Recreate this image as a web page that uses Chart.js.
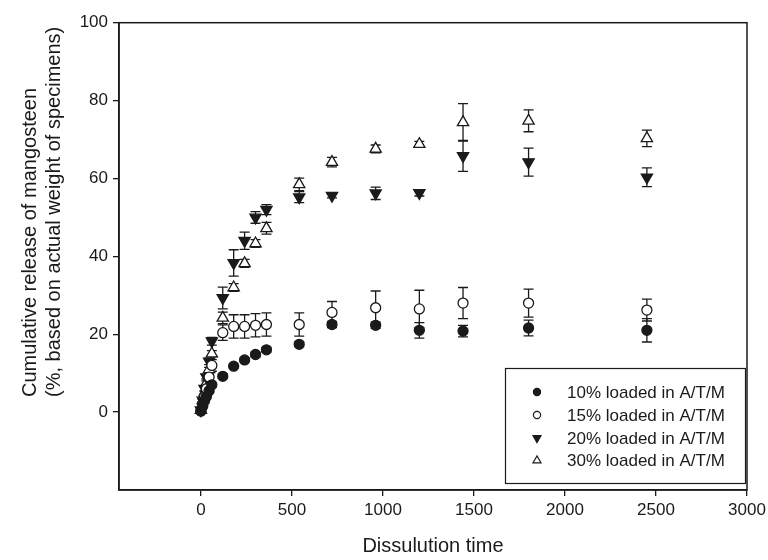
<!DOCTYPE html>
<html><head><meta charset="utf-8">
<script src="https://cdn.jsdelivr.net/npm/chart.js@4/dist/chart.umd.min.js"></script>
<style>html,body{margin:0;padding:0;background:#fff;} canvas{display:block;}</style>
</head><body>
<canvas id="c" width="768" height="560"></canvas>
<script>
// ---- data ----
const times = [0, 10, 20, 30, 45, 60, 120, 180, 240, 300, 360, 540, 720, 960, 1200, 1440, 1800, 2450];
const release10 = [0.3, 1.5, 3, 4, 5.5, 7, 9.2, 11.8, 13.4, 14.8, 16.0, 17.4, 22.5, 22.3, 21, 20.8, 21.6, 21];
const err10     = [0, 0.2, 0.3, 0.3, 0.4, 0.5, 0.6, 0.5, 0.5, 0.6, 0.6, 0.6, 0.8, 0.8, 2, 1.5, 2, 3];
const release15 = [0.3, 2, 4, 6, 9, 12, 20.4, 22, 22, 22.3, 22.5, 22.5, 25.6, 26.8, 26.5, 28, 28, 26.2];
const err15     = [0, 0.5, 0.5, 0.8, 1, 1.5, 2, 3, 3, 3, 3, 3, 2.8, 4.3, 4.8, 4, 3.6, 2.8];
const release20 = [0.5, 3, 6, 9, 13, 18.2, 29.3, 38.3, 44, 50, 52, 55.2, 55.6, 56.2, 56.3, 65.8, 64.2, 60.3];
const err20     = [0, 0.3, 0.5, 0.5, 0.8, 1, 2.8, 3.4, 2.2, 1.5, 1.3, 1.4, 0.6, 1.6, 0.8, 4, 3.6, 2.4];
const release30 = [0.5, 3, 5, 7.5, 11, 15, 24.2, 32, 38.2, 43.3, 47.2, 58.5, 64.2, 67.6, 68.8, 74.4, 74.8, 70.3];
const err30     = [0, 0.3, 0.3, 0.5, 0.5, 0.8, 1.5, 1, 1, 1, 1.5, 1.6, 1.2, 1, 0.7, 4.8, 2.8, 2.1];
const seriesLabels = ['10% loaded in A/T/M', '15% loaded in A/T/M', '20% loaded in A/T/M', '30% loaded in A/T/M'];
const xTicks = [0, 500, 1000, 1500, 2000, 2500, 3000];
const yTicks = [0, 20, 40, 60, 80, 100];
const xTitle = 'Dissulution time';
const yTitleLines = ['Cumulative release of mangosteen', '(%, based on actual weight of specimens)'];

// ---- styling ----
const INK = '#1a1a1a';
const FONT = "'Liberation Sans', Arial, sans-serif";
const allVals = [release10, release15, release20, release30];
const allErr = [err10, err15, err20, err30];
const markerStyles = [
  {style: 'circle', rot: 0, fill: INK, r: 5, lr: 3.6},
  {style: 'circle', rot: 0, fill: '#fff', r: 5, lr: 3.6},
  {style: 'triangle', rot: 180, fill: INK, r: 6.5, lr: 4.6},
  {style: 'triangle', rot: 0, fill: '#fff', r: 6.5, lr: 4.6}
];

const datasets = allVals.map((vals, k) => ({
  label: seriesLabels[k],
  data: times.map((t, i) => ({x: t, y: vals[i]})),
  errors: allErr[k],
  showLine: false,
  pointStyle: markerStyles[k].style,
  rotation: markerStyles[k].rot,
  pointRadius: markerStyles[k].r,
  pointHoverRadius: markerStyles[k].r,
  pointBackgroundColor: markerStyles[k].fill,
  pointBorderColor: INK,
  pointBorderWidth: 1.3
}));

function drawMarker(ctx, st, x, y, r) {
  ctx.save();
  ctx.beginPath();
  if (st.style === 'circle') {
    ctx.arc(x, y, r, 0, Math.PI * 2);
  } else {
    let rad = st.rot * Math.PI / 180;
    for (let j = 0; j < 3; j++) {
      const px = x + Math.sin(rad) * r, py = y - Math.cos(rad) * r;
      if (j === 0) ctx.moveTo(px, py); else ctx.lineTo(px, py);
      rad += 2 * Math.PI / 3;
    }
    ctx.closePath();
  }
  ctx.fillStyle = st.fill;
  ctx.fill();
  ctx.lineWidth = 1.2;
  ctx.strokeStyle = INK;
  ctx.stroke();
  ctx.restore();
}

const errorBars = {
  id: 'errorBars',
  beforeDatasetsDraw(chart) {
    const {ctx, chartArea} = chart;
    const xs = chart.scales.x, ys = chart.scales.y;
    ctx.save();
    ctx.beginPath();
    ctx.rect(chartArea.left, chartArea.top, chartArea.right - chartArea.left, chartArea.bottom - chartArea.top);
    ctx.clip();
    ctx.strokeStyle = INK;
    ctx.lineWidth = 1.3;
    chart.data.datasets.forEach(ds => {
      ds.data.forEach((p, i) => {
        const e = ds.errors[i];
        if (!e) return;
        const x = xs.getPixelForValue(p.x);
        const yt = ys.getPixelForValue(p.y + e);
        const yb = ys.getPixelForValue(p.y - e);
        ctx.beginPath();
        ctx.moveTo(x, yt); ctx.lineTo(x, yb);
        ctx.moveTo(x - 5, yt); ctx.lineTo(x + 5, yt);
        ctx.moveTo(x - 5, yb); ctx.lineTo(x + 5, yb);
        ctx.stroke();
      });
    });
    ctx.restore();
  }
};

const frameAndLegend = {
  id: 'frameAndLegend',
  afterDraw(chart) {
    const {ctx, chartArea} = chart;
    ctx.save();
    // frame
    ctx.strokeStyle = INK;
    ctx.lineWidth = 1.5;
    ctx.strokeRect(chartArea.left, chartArea.top, chartArea.right - chartArea.left, chartArea.bottom - chartArea.top);
    // legend box
    ctx.fillStyle = '#fff';
    ctx.fillRect(505, 368, 240, 115);
    ctx.lineWidth = 1.2;
    ctx.strokeRect(505.5, 368.5, 240, 115);
    const rows = [392, 415, 438, 460.5];
    ctx.font = '17px ' + FONT;
    ctx.textBaseline = 'middle';
    ctx.textAlign = 'left';
    chart.data.datasets.forEach((ds, k) => {
      const st = markerStyles[k];
      drawMarker(ctx, st, 537, rows[k], st.lr);
      ctx.fillStyle = INK;
      ctx.fillText(ds.label, 567, rows[k] + 1);
    });
    // y-axis title (two lines, start-aligned)
    ctx.font = '20px ' + FONT;
    ctx.fillStyle = INK;
    ctx.textBaseline = 'alphabetic';
    const baselines = [36, 60];
    yTitleLines.forEach((line, i) => {
      ctx.save();
      ctx.translate(baselines[i], 397);
      ctx.rotate(-Math.PI / 2);
      ctx.fillText(line, 0, 0);
      ctx.restore();
    });
    ctx.restore();
  }
};

new Chart(document.getElementById('c'), {
  type: 'scatter',
  data: {datasets},
  options: {
    responsive: false,
    animation: false,
    devicePixelRatio: 1,
    layout: {padding: {left: 0, right: 21, top: 22.7, bottom: 0}},
    plugins: {legend: {display: false}, tooltip: {enabled: false}},
    scales: {
      x: {
        type: 'linear', min: -450, max: 3000,
        afterBuildTicks: s => { s.ticks = xTicks.map(v => ({value: v})); },
        afterFit: s => { s.height = 70; s.paddingRight = 0; s.paddingLeft = 0; },
        border: {display: true, color: INK, width: 1.5},
        grid: {drawOnChartArea: false, drawTicks: true, tickLength: 6, color: INK, lineWidth: 1.3},
        ticks: {color: INK, padding: 4, font: {family: FONT, size: 17}, maxRotation: 0, callback: v => String(v)},
        title: {display: true, text: xTitle, color: INK, font: {family: FONT, size: 20}, padding: {top: 0, bottom: 2}}
      },
      y: {
        type: 'linear', min: -20, max: 100,
        afterBuildTicks: s => { s.ticks = yTicks.map(v => ({value: v})); },
        afterFit: s => { s.width = 119; },
        border: {display: true, color: INK, width: 1.5},
        grid: {drawOnChartArea: false, drawTicks: true, tickLength: 6, color: INK, lineWidth: 1.3},
        ticks: {color: INK, padding: 5, font: {family: FONT, size: 17}, callback: v => String(v)}
      }
    }
  },
  plugins: [errorBars, frameAndLegend]
});
</script>
</body></html>
